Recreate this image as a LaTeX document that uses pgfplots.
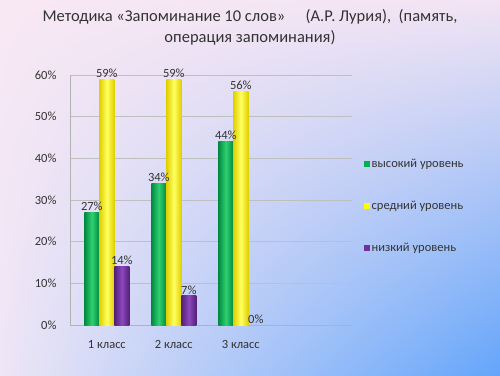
\documentclass[border=0pt]{standalone}
\usepackage{pgfplots}
\pgfplotsset{compat=1.18}
\usetikzlibrary{shadings}
\usepackage{fontspec}
\setmainfont{Carlito}
\definecolor{cgreen}{HTML}{00B050}
\definecolor{cgreenlt}{HTML}{30D070}
\definecolor{cgreendk}{HTML}{008A40}
\definecolor{cyellow}{HTML}{FFFF00}
\definecolor{cyellowlt}{HTML}{FFFF60}
\definecolor{cyellowdk}{HTML}{E0D000}
\definecolor{cpurple}{HTML}{7030A0}
\definecolor{cpurplelt}{HTML}{8C48BC}
\definecolor{cpurpledk}{HTML}{54207A}
\definecolor{txt}{HTML}{333333}
\definecolor{bgul}{RGB}{248,232,244}
\definecolor{bgur}{RGB}{242,228,244}
\definecolor{bgll}{RGB}{238,230,246}
\definecolor{bglr}{RGB}{100,165,250}
\newcommand{\legsq}[1]{\pgfsetfillcolor{#1}\pgfpathrectangle{\pgfpoint{0pt}{-3pt}}{\pgfpoint{6pt}{6pt}}\pgfusepath{fill}}
\pgfplotsset{
  gbar/.style={draw=none, bar shift=-15pt, left color=cgreendk, right color=cgreendk, middle color=cgreenlt,
    legend image code/.code={\legsq{cgreen}}},
  ybarc/.style={draw=none, bar shift=0pt, left color=cyellowdk, right color=cyellowdk, middle color=cyellowlt,
    legend image code/.code={\legsq{cyellow}}},
  pbar/.style={draw=none, bar shift=15pt, left color=cpurpledk, right color=cpurpledk, middle color=cpurplelt,
    legend image code/.code={\legsq{cpurple}}},
}
\begin{document}
\begin{tikzpicture}[x=1pt,y=1pt]
\shade[upper left=bgul, upper right=bgur, lower left=bgll, lower right=bglr]
  (0,0) rectangle (500,375);
\node[font=\fontsize{16.5}{21}\selectfont, text=txt, align=center] at (250,348)
  {Методика «Запоминание 10 слов»\quad\ (А.Р. Лурия),\ \ (память,\\ операция запоминания)};
\begin{axis}[
  at={(70pt,50pt)}, anchor=south west,
  scale only axis, width=282pt, height=250pt,
  clip=false,
  ybar, bar width=15pt,
  xmin=-0.55, xmax=3.66, ymin=0, ymax=60,
  xtick={0,1,2}, xticklabels={1 класс,2 класс,3 класс},
  ytick={0,10,...,60},
  yticklabel={\pgfmathprintnumber{\tick}\%},
  /pgf/number format/assume math mode=true,
  tick label style={font=\fontsize{12.5}{14}\selectfont, text=txt},
  yticklabel style={xshift=-10pt},
  xticklabel style={yshift=-12pt},
  major tick length=0pt,
  axis x line*=bottom, axis y line*=left,
  axis line style={draw=gray!60, -},
  ymajorgrids, grid style={draw=gray!50, line width=0.5pt},
  nodes near coords={\pgfmathprintnumber{\pgfplotspointmeta}\%},
  every node near coord/.append style={font=\fontsize{12.5}{14}\selectfont, text=txt, inner sep=1.5pt},
  legend style={at={(1.03,0.68)}, anchor=north west, draw=none, fill=none,
    font=\fontsize{12.5}{14}\selectfont, text=txt, row sep=28pt},
  legend cell align=left,
]
% высокий уровень
\addplot[gbar] coordinates {(0,27)};
\addlegendentry{высокий уровень}
% средний уровень
\addplot[ybarc] coordinates {(0,59)};
\addlegendentry{средний уровень}
% низкий уровень
\addplot[pbar] coordinates {(0,14)};
\addlegendentry{низкий уровень}
\addplot[gbar, forget plot] coordinates {(1,34)};
\addplot[gbar, forget plot] coordinates {(2,44)};
\addplot[ybarc, forget plot] coordinates {(1,59)};
\addplot[ybarc, forget plot] coordinates {(2,56)};
\addplot[pbar, forget plot] coordinates {(1,7)};
\addplot[pbar, forget plot] coordinates {(2,0)};
\end{axis}
\pgfresetboundingbox
\useasboundingbox (0,0) rectangle (500,375);
\end{tikzpicture}
\end{document}
